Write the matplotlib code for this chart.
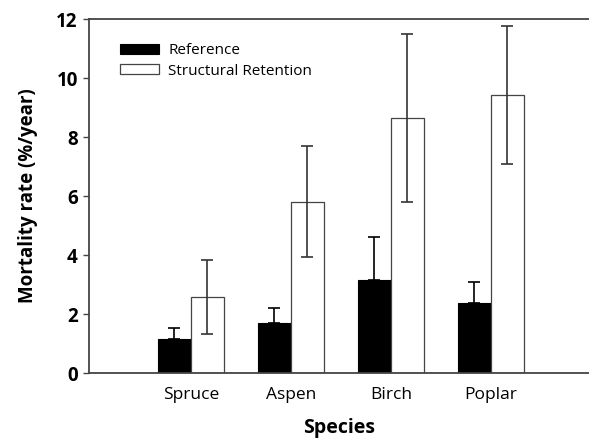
import numpy as np
import matplotlib
matplotlib.use('Agg')
import matplotlib.pyplot as plt

plt.rcParams['font.family'] = ['Open Sans', 'DejaVu Sans']

species = ['Spruce', 'Aspen', 'Birch', 'Poplar']
reference = [1.15, 1.71, 3.14, 2.38]
reference_se = [0.39, 0.48, 1.48, 0.70]
retention = [2.57, 5.81, 8.65, 9.42]
retention_se = [1.26, 1.88, 2.85, 2.35]

fig = plt.figure(figsize=(5.89, 4.42), dpi=100)
ax = fig.add_axes([0.151, 0.156, 0.849, 0.801])

x = np.arange(len(species))
w = 0.33
err_kw = dict(ecolor='#333333', elinewidth=1.2, capsize=4, capthick=1.2)
ref_err_kw = dict(err_kw, ecolor='black')

# only the upper whisker shows above the solid bars
ref_err = [np.zeros(len(reference)), reference_se]
ax.bar(x - w / 2, reference, w, yerr=ref_err, color='black',
       edgecolor='black', linewidth=0.8, error_kw=ref_err_kw, label='Reference')
ax.bar(x + w / 2, retention, w, yerr=retention_se, color='white',
       edgecolor='#444444', linewidth=0.9, error_kw=err_kw,
       label='Structural Retention')

ax.set_xlim(-1.02, 3.98)
ax.set_ylim(0, 12)
ax.set_yticks(range(0, 13, 2))
ax.set_xticks(x)
ax.set_xticklabels(species, fontsize=12.5)
for t in ax.get_yticklabels():
    t.set_fontsize(13.5)
    t.set_fontweight('bold')
ax.tick_params(axis='x', length=0, pad=10)
ax.tick_params(axis='y', length=4, width=1, color='#444444', pad=4)

for side in ['left', 'bottom', 'top']:
    ax.spines[side].set_color('#444444')
    ax.spines[side].set_linewidth(1.3)
ax.spines['right'].set_visible(False)

ax.set_ylabel('Mortality rate (%/year)', fontsize=13.5, fontweight='bold', labelpad=13)
ax.set_xlabel('Species', fontsize=14, fontweight='bold', labelpad=11)

ax.legend(loc='upper left', frameon=False, fontsize=11, handlelength=2.55,
          handleheight=0.6, labelspacing=0.35, handletextpad=0.6,
          bbox_to_anchor=(0.035, 0.97))

fig.savefig('out.png', dpi=100)
